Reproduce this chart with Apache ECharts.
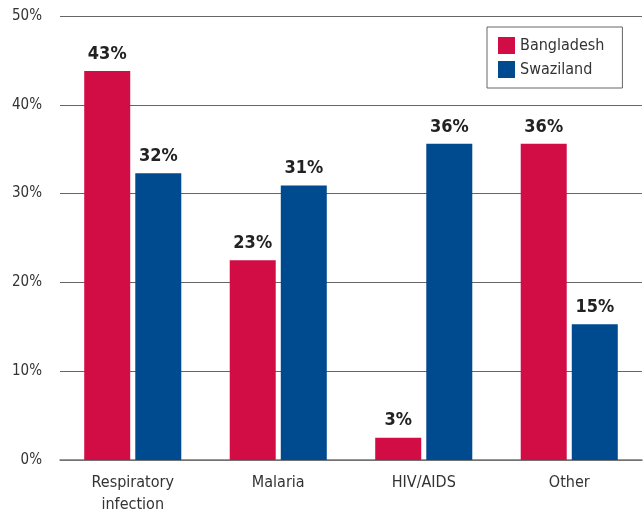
<!DOCTYPE html>
<html><head><meta charset="utf-8">
<script src="https://cdn.jsdelivr.net/npm/echarts@6/dist/echarts.min.js"></script>
<style>html,body{margin:0;padding:0;background:#fff}#c{width:644px;height:512px}</style>
</head><body><div id="c"></div>
<script>
const categories = ['Respiratory\ninfection', 'Malaria', 'HIV/AIDS', 'Other'];
const bangladesh = [43.8, 22.5, 2.5, 35.6];
const swaziland = [32.3, 30.9, 35.6, 15.3];
const bangladeshLabels = ['43%', '23%', '3%', '36%'];
const swazilandLabels = ['32%', '31%', '36%', '15%'];
const yTicks = [0, 10, 20, 30, 40, 50];

const FONT = '"DejaVu Sans Condensed", "Liberation Sans Narrow", sans-serif';
const chart = echarts.init(document.getElementById('c'));
chart.setOption({
  animation: false,
  textStyle: { fontFamily: FONT },
  grid: { left: 60, right: 2, top: 16, bottom: 52, outerBoundsMode: 'none', containLabel: false },
  legend: {
    orient: 'vertical', left: 487, top: 27,
    borderColor: '#666', borderWidth: 1, padding: [10, 18, 10, 11],
    itemWidth: 17, itemHeight: 17, itemGap: 7,
    icon: 'rect',
    textStyle: { fontFamily: FONT, fontSize: 16, color: '#333' },
    data: ['Bangladesh', 'Swaziland']
  },
  xAxis: {
    type: 'category', data: categories,
    axisLine: { lineStyle: { color: '#777', width: 1.5 } },
    axisTick: { show: false },
    axisLabel: { fontFamily: FONT, fontSize: 16, color: '#333', margin: 12, lineHeight: 22 }
  },
  yAxis: {
    type: 'value', min: yTicks[0], max: yTicks[yTicks.length - 1], interval: 10,
    axisLine: { show: false }, axisTick: { show: false },
    axisLabel: { fontFamily: FONT, fontSize: 15, color: '#333', margin: 18, formatter: v => v + '%' },
    splitLine: { lineStyle: { color: '#666', width: 1.2 } }
  },
  series: [
    {
      name: 'Bangladesh', type: 'bar', data: bangladesh, barWidth: 46, barGap: '11%',
      itemStyle: { color: '#D20C45' },
      label: { show: true, position: 'top', distance: 8, fontFamily: FONT, fontSize: 18, fontWeight: 'bold', color: '#222',
        formatter: p => bangladeshLabels[p.dataIndex] }
    },
    {
      name: 'Swaziland', type: 'bar', data: swaziland, barWidth: 46, barGap: '11%',
      itemStyle: { color: '#004A8F' },
      label: { show: true, position: 'top', distance: 8, fontFamily: FONT, fontSize: 18, fontWeight: 'bold', color: '#222',
        formatter: p => swazilandLabels[p.dataIndex] }
    }
  ]
});
</script></body></html>
